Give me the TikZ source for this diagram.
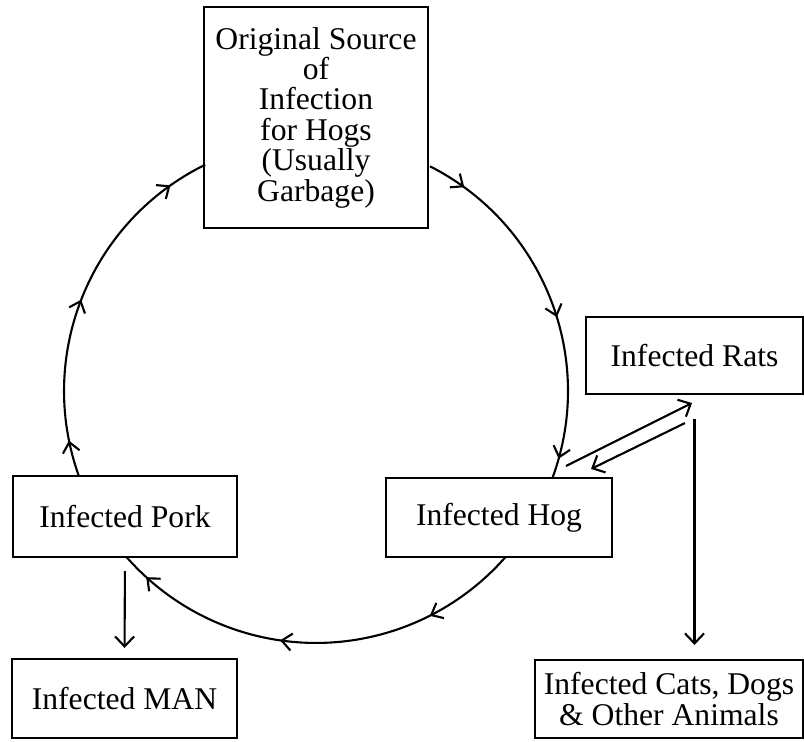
\documentclass[tikz,border=0pt]{standalone}
\usepackage{fontspec}
\setmainfont{Liberation Serif}
\usetikzlibrary{arrows.meta,positioning,calc,decorations.markings}

\begin{document}
\begin{tikzpicture}[x=0.02cm,y=0.02cm,line width=1.2pt,
  box/.style={draw,rectangle,align=center,inner sep=0pt,font=\fontsize{18}{17.3}\selectfont},
  arr/.style={-{Straight Barb[length=2mm,width=3.8mm]}},
  cyc/.style n args={3}{decoration={markings,
    mark=at position #1 with {\arrow{Straight Barb[length=2mm,width=3.4mm]}},
    mark=at position #2 with {\arrow{Straight Barb[length=2mm,width=3.4mm]}},
    mark=at position #3 with {\arrow{Straight Barb[length=2mm,width=3.4mm]}}},
    postaction={decorate}}]
  \useasboundingbox (0,0) rectangle (804,741);
  % boxes
  \node[box,minimum width=4.49cm,minimum height=4.42cm] (src) at (316,623.5)
    {Original Source\\of\\Infection\\for Hogs\\(Usually\\Garbage)};
  \node[box,minimum width=4.34cm,minimum height=1.54cm] (rats) at (694.5,385.5) {Infected Rats};
  \node[box,minimum width=4.52cm,minimum height=1.58cm] (hog) at (499,223.5) {Infected Hog};
  \node[box,minimum width=4.48cm,minimum height=1.62cm] (pork) at (125,224.5) {Infected Pork};
  \node[box,minimum width=4.5cm,minimum height=1.58cm] (man) at (124.5,42.5) {Infected MAN};
  \node[box,minimum width=5.36cm,minimum height=1.56cm] (cats) at (669,42)
    {Infected Cats, Dogs\\\& Other Animals};
  % the cycle
  \coordinate (ctr) at (316,350);
  \draw[cyc={0.11}{0.554}{0.947}] (ctr) ++(63.1:5.04cm) arc[start angle=63.1,end angle=-20,radius=5.04cm];
  \draw[cyc={0.225}{0.584}{0.934}] (ctr) ++(-41.2:5.04cm) arc[start angle=-41.2,end angle=-138.8,radius=5.04cm];
  \draw[cyc={0.10}{0.49}{0.89}] (ctr) ++(199.7:5.04cm) arc[start angle=199.7,end angle=116.1,radius=5.04cm];
  % side arrows
  \draw[arr] ($(hog.north east)+(-47,11)$) -- ($(rats.south)+(-2.5,-8)$);
  \draw[arr] ($(rats.south)+(-9.5,-28)$) -- ($(hog.north east)+(-22,8)$);
  \draw[arr,shorten <=2.6mm,shorten >=2mm] (pork.south) -- (man.north);
  \draw[arr,shorten <=4.8mm,shorten >=2.8mm] (rats.south) -- (rats.south |- cats.north);
\end{tikzpicture}
\end{document}
